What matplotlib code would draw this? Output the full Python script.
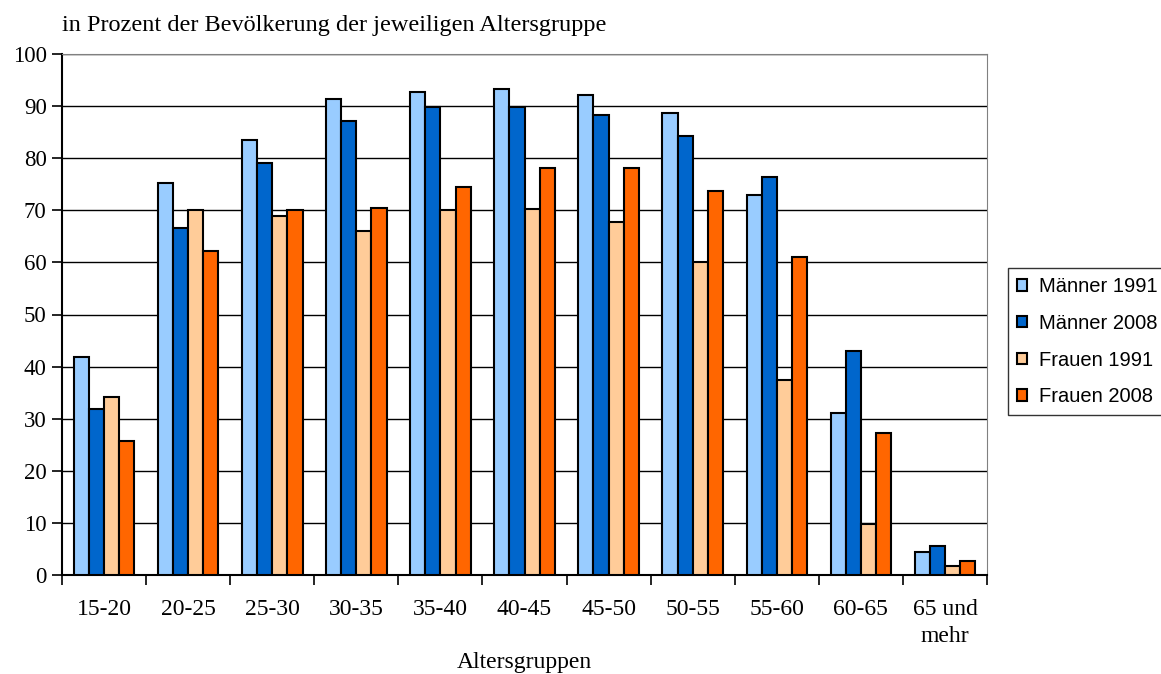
import numpy as np
import matplotlib.pyplot as plt

groups = ["15-20", "20-25", "25-30", "30-35", "35-40", "40-45",
          "45-50", "50-55", "55-60", "60-65", "65 und\nmehr"]
maenner_1991 = [41.8, 75.2, 83.5, 91.4, 92.8, 93.2, 92.1, 88.7, 73.0, 31.1, 4.5]
maenner_2008 = [31.8, 66.6, 79.0, 87.2, 89.8, 89.8, 88.3, 84.2, 76.3, 43.0, 5.5]
frauen_1991 = [34.1, 70.0, 69.0, 66.0, 70.0, 70.3, 67.8, 60.0, 37.5, 9.8, 1.8]
frauen_2008 = [25.8, 62.1, 70.0, 70.4, 74.5, 78.2, 78.2, 73.7, 61.0, 27.3, 2.6]

series = [
    ("Männer 1991", maenner_1991, "#99CCFF"),
    ("Männer 2008", maenner_2008, "#0066CC"),
    ("Frauen 1991", frauen_1991, "#FFCC99"),
    ("Frauen 2008", frauen_2008, "#FF6600"),
]

serif = ["Liberation Serif", "DejaVu Serif"]
W, H = 1161, 674

fig = plt.figure(figsize=(W / 100, H / 100), dpi=100)
# axes box: x 62..987 px, y 54..575 px
ax = fig.add_axes([62 / W, 1 - 575 / H, (987 - 62) / W, (575 - 54) / H])

x = np.arange(len(groups))
w = 0.18
for i, (name, vals, col) in enumerate(series):
    ax.bar(x + (i - 1.5) * w, vals, w, color=col, edgecolor="black",
           linewidth=1.5, label=name, zorder=3)

ax.set_xlim(-0.5, len(groups) - 0.5)
ax.set_ylim(0, 100)
ax.set_yticks(range(0, 101, 10))
ax.set_xticks(x)
ax.set_xticklabels(groups, fontfamily=serif, fontsize=17, linespacing=1.4,
                   va="top")
ax.set_xticks(np.arange(-0.5, len(groups)), minor=True)
ax.tick_params(axis="x", which="major", length=0, pad=17)
ax.tick_params(axis="x", which="minor", length=7, width=1.2, direction="out")
ax.tick_params(axis="y", length=7, width=1.2, direction="out", pad=4)
for lab in ax.get_yticklabels():
    lab.set_fontfamily(serif)
    lab.set_fontsize(16.5)

ax.grid(axis="y", color="black", linewidth=1, zorder=0)
for s in ["top", "right"]:
    ax.spines[s].set_color("#808080")
ax.spines["left"].set_linewidth(1.5)
ax.spines["bottom"].set_linewidth(1.5)

ax.set_xlabel("Altersgruppen", fontfamily=serif, fontsize=17)
ax.xaxis.set_label_coords(0.5, -(652 - 575) / (575 - 54))
ax.xaxis.label.set_va("top")

fig.text(62 / W, 1 - 31 / H, "in Prozent der Bevölkerung der jeweiligen Altersgruppe",
         fontfamily=serif, fontsize=17.5, ha="left", va="baseline")

leg = ax.legend(loc="upper left", bbox_to_anchor=(1008 / W, 1 - 268 / H),
                bbox_transform=fig.transFigure, borderaxespad=0,
                prop={"family": ["Liberation Sans", "DejaVu Sans"], "size": 14.5},
                frameon=True, fancybox=False, edgecolor="black",
                handlelength=0.5, handleheight=0.5, handletextpad=0.6,
                labelspacing=0.88, borderpad=0.45)
leg.get_frame().set_linewidth(1)

fig.savefig("out.png", dpi=100)
